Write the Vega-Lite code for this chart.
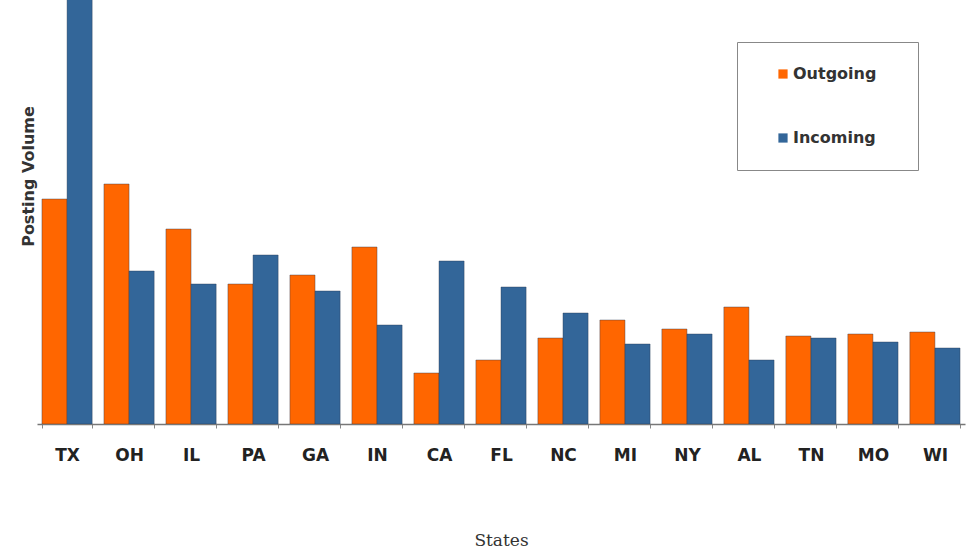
{
  "$schema": "https://vega.github.io/schema/vega-lite/v6.json",
  "autosize": {"type": "none"},
  "padding": {"left": 37, "top": 0, "right": 15, "bottom": 128},
  "width": 928,
  "height": 424,
  "background": "white",
  "data": {"values": [
    {"state": "TX", "type": "Outgoing", "v": 225}, {"state": "TX", "type": "Incoming", "v": 440},
    {"state": "OH", "type": "Outgoing", "v": 240}, {"state": "OH", "type": "Incoming", "v": 153},
    {"state": "IL", "type": "Outgoing", "v": 195}, {"state": "IL", "type": "Incoming", "v": 140},
    {"state": "PA", "type": "Outgoing", "v": 140}, {"state": "PA", "type": "Incoming", "v": 169},
    {"state": "GA", "type": "Outgoing", "v": 149}, {"state": "GA", "type": "Incoming", "v": 133},
    {"state": "IN", "type": "Outgoing", "v": 177}, {"state": "IN", "type": "Incoming", "v": 99},
    {"state": "CA", "type": "Outgoing", "v": 51}, {"state": "CA", "type": "Incoming", "v": 163},
    {"state": "FL", "type": "Outgoing", "v": 64}, {"state": "FL", "type": "Incoming", "v": 137},
    {"state": "NC", "type": "Outgoing", "v": 86}, {"state": "NC", "type": "Incoming", "v": 111},
    {"state": "MI", "type": "Outgoing", "v": 104}, {"state": "MI", "type": "Incoming", "v": 80},
    {"state": "NY", "type": "Outgoing", "v": 95}, {"state": "NY", "type": "Incoming", "v": 90},
    {"state": "AL", "type": "Outgoing", "v": 117}, {"state": "AL", "type": "Incoming", "v": 64},
    {"state": "TN", "type": "Outgoing", "v": 88}, {"state": "TN", "type": "Incoming", "v": 86},
    {"state": "MO", "type": "Outgoing", "v": 90}, {"state": "MO", "type": "Incoming", "v": 82},
    {"state": "WI", "type": "Outgoing", "v": 92}, {"state": "WI", "type": "Incoming", "v": 76}
  ]},
  "mark": {"type": "bar", "clip": true, "stroke": "#2a3a50", "strokeWidth": 0.8, "strokeOpacity": 0.5},
  "encoding": {
    "x": {
      "field": "state", "type": "nominal", "sort": null,
      "scale": {"paddingInner": 0.19, "paddingOuter": 0.08},
      "axis": {
        "title": "States", "titleFont": "DejaVu Serif", "titleFontSize": 17, "titleFontWeight": "normal",
        "titleColor": "#333", "titlePadding": 69,
        "labelAngle": 0, "labelFont": "DejaVu Sans", "labelFontWeight": "bold", "labelFontSize": 17,
        "labelColor": "#222", "labelPadding": 19,
        "tickBand": "extent", "tickSize": 4, "tickColor": "#888", "domainColor": "#777", "domainWidth": 1.5
      }
    },
    "xOffset": {"field": "type", "type": "nominal", "sort": ["Outgoing", "Incoming"], "scale": {"paddingInner": 0}},
    "y": {
      "field": "v", "type": "quantitative",
      "scale": {"domain": [0, 424], "nice": false},
      "axis": {
        "title": "Posting Volume", "titleFont": "DejaVu Sans", "titleFontWeight": "bold", "titleFontSize": 16,
        "titleColor": "#333", "titleX": -9, "titleY": 176, "titleAngle": -90, "titleAlign": "center", "titleBaseline": "middle",
        "labels": false, "ticks": false, "domain": false, "grid": false
      }
    },
    "color": {
      "field": "type", "type": "nominal", "sort": ["Outgoing", "Incoming"],
      "scale": {"domain": ["Outgoing", "Incoming"], "range": ["#ff6600", "#336699"]},
      "legend": {
        "title": " ", "titleOrient": "right", "titlePadding": 18, "titleFontSize": 4,
        "orient": "none", "legendX": 700, "legendY": 42,
        "strokeColor": "#888", "padding": 24, "fillColor": "white",
        "symbolType": "square", "symbolSize": 85, "symbolStrokeWidth": 0,
        "labelFont": "DejaVu Sans", "labelFontWeight": "bold", "labelFontSize": 16, "labelColor": "#333", "labelOffset": 2,
        "rowPadding": 48, "symbolOffset": 14
      }
    }
  },
  "config": {"view": {"stroke": null}}
}
